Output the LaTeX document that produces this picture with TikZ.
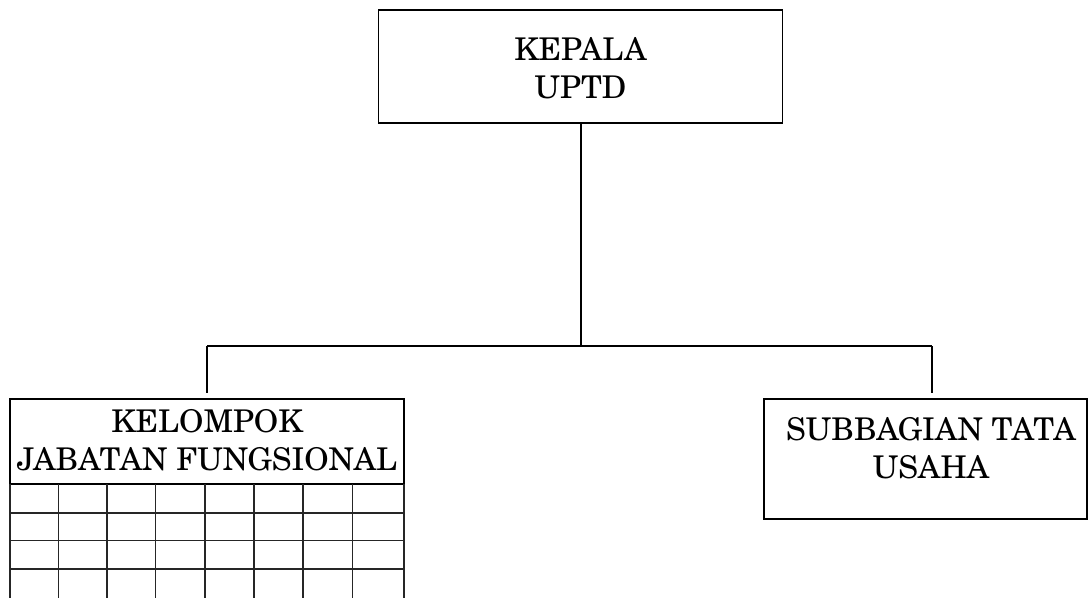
\documentclass[tikz,border=0pt]{standalone}
\usepackage{fontspec}
\setmainfont{TeX Gyre Schola}
\begin{document}
\begin{tikzpicture}[x=1pt,y=-1pt,
  boxline/.style={draw=black,line width=1.6pt,inner sep=0pt},
  conn/.style={draw=black,line width=2pt},
  gridline/.style={draw=black!85,line width=1.1pt},
  lbl/.style={font=\fontsize{31.3}{38}\selectfont,align=center,anchor=base,inner sep=0pt}]
\useasboundingbox (0,0) rectangle (1089,597);
% boxes
\node[boxline,minimum width=404pt,minimum height=113pt] (kepala) at (580.5,66.5) {};
\node[boxline,minimum width=394pt,minimum height=85pt] (kjf) at (207,441.5) {};
\node[boxline,minimum width=323pt,minimum height=120pt] (sub) at (925.5,459) {};
% texts (base = last line baseline)
\node[lbl] (tkepala) at (580.5,98) {KEPALA\\UPTD};
\node[lbl] (tkjf) at (207,470) {KELOMPOK\\JABATAN FUNGSIONAL};
\node[lbl] (tsub) at (931,478) {SUBBAGIAN TATA\\USAHA};
% grid below KJF header
\foreach \x in {10,58.5,107,155.5,205,254,303,352.5,404}
  \draw[gridline] (\x,484) -- (\x,598);
\foreach \y in {513,540.5,569}
  \draw[gridline] (10,\y) -- (404,\y);
% connectors
\coordinate (bus) at (580.5,346);
\coordinate (busL) at (207,346);
\coordinate (busR) at (932,346);
\coordinate (dropL) at (207,393);
\coordinate (dropR) at (932,393);
\draw[conn] (kepala.south) -- (bus);
\draw[conn] (busL) -- (busR);
\draw[conn] (busL) -- (dropL);
\draw[conn] (busR) -- (dropR);
\end{tikzpicture}
\end{document}
